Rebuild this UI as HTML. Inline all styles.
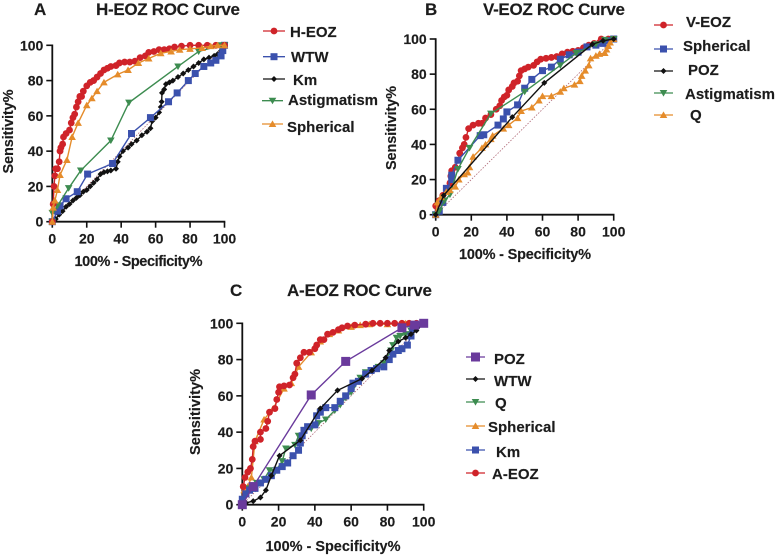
<!DOCTYPE html>
<html lang="en">
<head>
<meta charset="utf-8">
<title>EOZ ROC Curves</title>
<style>
html,body{margin:0;padding:0;background:#fff;width:777px;height:557px;overflow:hidden}
svg{display:block;filter:blur(.35px)}
text{font-family:"Liberation Sans",sans-serif;font-weight:bold;fill:#1c1c1c;stroke:#1c1c1c;stroke-width:.15px}
.title{font-size:17px}
.panel-letter{font-size:17px}
.legend-label{font-size:15px}
.axis-title{font-size:14.5px}
.tick-label{font-size:14px}
</style>
</head>
<body>
<svg id="figure" width="777" height="557" viewBox="0 0 777 557" xmlns="http://www.w3.org/2000/svg">
  <rect width="777" height="557" fill="#fff"/>

  <text class="panel-letter" x="34" y="15">A</text>
  <text class="title" x="96" y="15" textLength="144" lengthAdjust="spacing">H-EOZ ROC Curve</text>
  <text class="axis-title" x="138.5" y="266" text-anchor="middle" textLength="128">100% - Specificity%</text>
  <text class="axis-title" transform="translate(13,131.5) rotate(-90)" text-anchor="middle" textLength="84">Sensitivity%</text>

  <text class="panel-letter" x="425" y="15">B</text>
  <text class="title" x="483" y="15" textLength="142" lengthAdjust="spacing">V-EOZ ROC Curve</text>
  <text class="axis-title" x="525" y="259" text-anchor="middle" textLength="132">100% - Specificity%</text>
  <text class="axis-title" transform="translate(396,128) rotate(-90)" text-anchor="middle" textLength="84">Sensitivity%</text>

  <text class="panel-letter" x="230" y="296">C</text>
  <text class="title" x="287" y="296" textLength="145" lengthAdjust="spacing">A-EOZ ROC Curve</text>
  <text class="axis-title" x="333" y="551" text-anchor="middle" textLength="135">100% - Specificity%</text>
  <text class="axis-title" transform="translate(200,412) rotate(-90)" text-anchor="middle" textLength="86">Sensitivity%</text>

  <text class="legend-label" x="290" y="37">H-EOZ</text>
  <text class="legend-label" x="291" y="62">WTW</text>
  <text class="legend-label" x="293" y="85">Km</text>
  <text class="legend-label" x="288" y="105" textLength="90">Astigmatism</text>
  <text class="legend-label" x="287" y="132">Spherical</text>

  <text class="legend-label" x="686" y="27">V-EOZ</text>
  <text class="legend-label" x="683" y="51">Spherical</text>
  <text class="legend-label" x="688" y="75">POZ</text>
  <text class="legend-label" x="685" y="99" textLength="90">Astigmatism</text>
  <text class="legend-label" x="690" y="120">Q</text>

  <text class="legend-label" x="494" y="364">POZ</text>
  <text class="legend-label" x="494" y="386">WTW</text>
  <text class="legend-label" x="495" y="408">Q</text>
  <text class="legend-label" x="488" y="432">Spherical</text>
  <text class="legend-label" x="496" y="457">Km</text>
  <text class="legend-label" x="492" y="479">A-EOZ</text>
</svg>
<script>
// Shared axis ticks and reference diagonal
const tickValues = [0, 20, 40, 60, 80, 100];
const diagonalValues = [0, 100];

// Panel A series
const aHeozX = [0,0.5,1,1.5,2,3,4,4.5,5,6,6.5,8,10,11,12,13,14,15,16,17,18,20,22,24,26,28,30,32,34,37,39,42,45,48,51,54,56,59,62,65,68,71,75,80,85,90,95,100];
const aHeozY = [0,10,20,26,30,30,34,40,42,44,48,50,52,56,59,61,65,68,71,71,74,77,79,80,82,84,86,87,88,88.5,90,90.5,90.5,91,93,94,96,96.5,97.5,97.5,98,99,99.5,100,100,100,100,100];
const aWtwX = [0,3,4.5,8,14.5,20.5,35,46,57,67.5,72.5,79,83,88,92,95,98,99,100];
const aWtwY = [0,6,9,13,17,27,33,50,59,68,73,80,84,88,90,91.5,94,97,100];
const aKmX = [0,2,4,6,8,10,12,14,16,18,20,22,24,26,28,30,32,34,37,38,39,41,44,46,49,52,55,57,58,60,62,63,63.5,63.7,65,66,68,70,73,76,79,82,85,88,91,94,96,98,99,100];
const aKmY = [0,1.5,4,6,8.5,10,12,13.5,15,17,18,20,22,24,27,28,28.5,29,30,34,37,40,42,44,46,49,51,53,57,59,62,65,68,73,75,78,79,80,82,84,86,88,90,92,93,94,95,97,98,100];
const aAstigX = [0,0,3,9.5,16.5,34,44.5,73,85,98,100];
const aAstigY = [0,5,9,19,29,46,67.5,88,96.5,100,100];
const aSpherX = [0,0.5,1.5,3,4.5,8.5,11.5,15,20,23,26,30,38,44,50,56,63,69,74,80,87,92,96,100];
const aSpherY = [0,8,12,18,26.5,35,48,56,66,70,74,79,83.5,86,90,92.5,95.5,96.5,97.5,98,98.5,99.5,100,100];

// Panel B series
const bVeozX = [0,0,2,4,6,8,8.5,9,11,12.5,13.5,15,16,17,18.5,21,24,26,28,31,34,36,37,38.5,40,41,43,44,46,47,48,50,52,55,57,59,62,65,68,71,74,77,80,83,86,89,92,93,97,100];
const bVeozY = [0,5,8,11,14,18,22,25,27,31,35,38,40,44,49,51,52,52,55,57,60,62,65,67,68,71,73,75,76,79,82,83,84,85,87,88.5,89,89.5,90,91.5,92.5,93,93.5,95,96.5,97.5,98,100,100,100];
const bSpherX = [0,2,4,6,9,9,12.5,25,27,35,38,40,46,50,54,60,65,70,75,80,85,90,94,96,100];
const bSpherY = [0,2,7,15,20,22.5,31,45,45.5,51,54.5,58.5,62.5,72,77,82,84,88.5,91,92.5,95.5,96.5,97.5,99,100];
const bPozX = [0,4.5,43,61,88,94,100];
const bPozY = [0,11,55.5,75,97,99,100];
const bAstigX = [0,2,5,8,12.5,19,31,50,70,79,90,95,100];
const bAstigY = [0,2,8,11.5,26,38,57.5,70,85,92,97,99.5,100];
const bQX = [0,1,3,6,8,11,13,16,18,19,21,26,28,31,32,38,41,46,48,54,58,60,65,70,72,78,81,82,84,86,87,90,92,95,96,97,98,100];
const bQY = [0,7,10,13,14,16,20,23,24,27,33,38,40,43,45,49,51,55,59,61,65,67.5,67.5,70,72,74,76,79,82,85,89,90.5,91.5,92,94,96,98,100];

// Panel C series
const cPozX = [0,6,38,57,88,95,100];
const cPozY = [0,10,60.5,79,97.5,99,100];
const cWtwX = [0,2,6,10,13,16,20.5,32,43,52.5,66,71.5,79,81,86,90,93,96,100];
const cWtwY = [0,1,2,4,8,16,27,35.5,53,63,69.5,74,81,85,90,92,94,96,100];
const cQX = [0,2,4,8,12,15,18,22,24,29,31,34,38,42,46,51,54,57,60,62,65,68,71,75,78,82,83,85,87,90,93,100];
const cQY = [0,5,9,12,14,19,18,24,31,33,38,41,42,45,47,52,55,59,62,66,70,73,74,76,78,85,88,92,93,94,96,100];
const cSpherX = [0,1,3,5,7,12,17,23,27,31,38,43,48,53,60,65,70,80,90,100];
const cSpherY = [0,8,10,15,35,47,53,64,67,76,84,90,94,96,98,99,99.5,99.5,100,100];
const cKmX = [0,2,4,7,10,13,16,19,22,25,28,31,32,33,34,36,40,41,43,46,51,54,57,60,61,64,68,71,74,78,81,83,86,88,91,93,94,96,100];
const cKmY = [3,6,8,9,12,14,16,19,21,23,27,30,34,38,41,43,44,49,51,53.5,53.5,57,60,64,67,68,72,74,75,76,80,83,85,86,88,93,97,99,100];
const cAeozX = [0,0.5,1.5,3,4.5,5.5,6,7,10,10,13,14,15,18,19,20,20.5,23,26,28,29,30,32,34,37,40,41,43,45,47,50,53,55,58,62,68,72,76,80,84,88,92,96,100];
const cAeozY = [0,10,15,18,20,25,32,35,36,40,42,46,51,53,58,62,65,65.5,66,70,72,78,81,84,84,86,88,91,91,94,95,96.5,97.5,98.5,99,99.5,100,100,100,100,100,100,100,100];

const COLORS = {red:'#cf2329', blue:'#3b51ad', black:'#111', green:'#3d8c50', orange:'#e58c2b', purple:'#6a3a9c'};

const panels = [
  {id:'a', x0:52.3, x1:224.5, y0:221.7, y1:45.3, series:[
    {name:'km', xs:aKmX, ys:aKmY, color:COLORS.black, shape:'diamond'},
    {name:'wtw', xs:aWtwX, ys:aWtwY, color:COLORS.blue, shape:'square'},
    {name:'astigmatism', xs:aAstigX, ys:aAstigY, color:COLORS.green, shape:'down'},
    {name:'h-eoz', xs:aHeozX, ys:aHeozY, color:COLORS.red, shape:'circle'},
    {name:'spherical', xs:aSpherX, ys:aSpherY, color:COLORS.orange, shape:'up'}
  ], legend:[
    {name:'h-eoz', x0:263, x1:285, y:31, color:COLORS.red, shape:'circle'},
    {name:'wtw', x0:263, x1:285, y:56.7, color:COLORS.blue, shape:'square'},
    {name:'km', x0:263, x1:285, y:79, color:COLORS.black, shape:'diamond'},
    {name:'astigmatism', x0:262, x1:283, y:100.7, color:COLORS.green, shape:'down'},
    {name:'spherical', x0:262, x1:283, y:124, color:COLORS.orange, shape:'up'}
  ]},
  {id:'b', x0:435.7, x1:613.7, y0:214.7, y1:39, series:[
    {name:'v-eoz', xs:bVeozX, ys:bVeozY, color:COLORS.red, shape:'circle'},
    {name:'spherical', xs:bSpherX, ys:bSpherY, color:COLORS.blue, shape:'square'},
    {name:'astigmatism', xs:bAstigX, ys:bAstigY, color:COLORS.green, shape:'down'},
    {name:'q', xs:bQX, ys:bQY, color:COLORS.orange, shape:'up'},
    {name:'poz', xs:bPozX, ys:bPozY, color:COLORS.black, shape:'diamond'}
  ], legend:[
    {name:'v-eoz', x0:654, x1:673, y:25, color:COLORS.red, shape:'circle'},
    {name:'spherical', x0:654, x1:673, y:49, color:COLORS.blue, shape:'square'},
    {name:'poz', x0:654, x1:673, y:71, color:COLORS.black, shape:'diamond'},
    {name:'astigmatism', x0:654, x1:673, y:93, color:COLORS.green, shape:'down'},
    {name:'q', x0:654, x1:673, y:115, color:COLORS.orange, shape:'up'}
  ]},
  {id:'c', x0:242.3, x1:423.7, y0:504.7, y1:323.3, series:[
    {name:'spherical', xs:cSpherX, ys:cSpherY, color:COLORS.orange, shape:'up'},
    {name:'a-eoz', xs:cAeozX, ys:cAeozY, color:COLORS.red, shape:'circle'},
    {name:'q', xs:cQX, ys:cQY, color:COLORS.green, shape:'down'},
    {name:'km', xs:cKmX, ys:cKmY, color:COLORS.blue, shape:'square'},
    {name:'wtw', xs:cWtwX, ys:cWtwY, color:COLORS.black, shape:'diamond'},
    {name:'poz', xs:cPozX, ys:cPozY, color:COLORS.purple, shape:'bigsquare'}
  ], legend:[
    {name:'poz', x0:466, x1:485, y:357, color:COLORS.purple, shape:'bigsquare'},
    {name:'wtw', x0:466, x1:485, y:379, color:COLORS.black, shape:'diamond'},
    {name:'q', x0:466, x1:485, y:402, color:COLORS.green, shape:'down'},
    {name:'spherical', x0:466, x1:485, y:426, color:COLORS.orange, shape:'up'},
    {name:'km', x0:466, x1:485, y:450, color:COLORS.blue, shape:'square'},
    {name:'a-eoz', x0:466, x1:485, y:473, color:COLORS.red, shape:'circle'}
  ]}
];

const NS = 'http://www.w3.org/2000/svg';
const svg = document.getElementById('figure');

function make(tag, attrs, parent) {
  const el = document.createElementNS(NS, tag);
  for (const k in attrs) el.setAttribute(k, attrs[k]);
  parent.appendChild(el);
  return el;
}

function scale(domainMax, a, b) {
  return function (v) { return a + (v / domainMax) * (b - a); };
}

function drawMarker(shape, cx, cy, color, parent) {
  let m;
  if (shape === 'circle') {
    m = make('circle', {cx: cx, cy: cy, r: 3.4, fill: color}, parent);
  } else if (shape === 'square') {
    m = make('rect', {x: cx - 3.5, y: cy - 3.5, width: 7, height: 7, fill: color}, parent);
  } else if (shape === 'bigsquare') {
    m = make('rect', {x: cx - 4.5, y: cy - 4.5, width: 9, height: 9, fill: color}, parent);
  } else if (shape === 'diamond') {
    m = make('polygon', {points: (cx - 3) + ',' + cy + ' ' + cx + ',' + (cy - 3) + ' ' + (cx + 3) + ',' + cy + ' ' + cx + ',' + (cy + 3), fill: color}, parent);
  } else if (shape === 'down') {
    m = make('polygon', {points: (cx - 3.8) + ',' + (cy - 3) + ' ' + (cx + 3.8) + ',' + (cy - 3) + ' ' + cx + ',' + (cy + 3.6), fill: color}, parent);
  } else {
    m = make('polygon', {points: (cx - 3.8) + ',' + (cy + 3) + ' ' + (cx + 3.8) + ',' + (cy + 3) + ' ' + cx + ',' + (cy - 3.6), fill: color}, parent);
  }
  
  
}

panels.forEach(function (p) {
  const sx = scale(100, p.x0, p.x1);
  const sy = scale(100, p.y0, p.y1);

  const diag = make('line', {
    x1: sx(diagonalValues[0]), y1: sy(diagonalValues[0]),
    x2: sx(diagonalValues[1]), y2: sy(diagonalValues[1]),
    stroke: '#b06a78', 'stroke-width': 0.8, 'stroke-dasharray': '1.5 1.5'
  }, svg);
  
  

  const xAxis = make('g', {}, svg);
  
  
  const yAxis = make('g', {}, svg);
  
  

  make('line', {x1: sx(0) - 0.8, y1: sy(0), x2: sx(100) + 0.8, y2: sy(0), stroke: '#111', 'stroke-width': 1.8}, xAxis);
  make('line', {x1: sx(0), y1: sy(0) + 0.8, x2: sx(0), y2: sy(100) - 0.8, stroke: '#111', 'stroke-width': 1.8}, yAxis);

  tickValues.forEach(function (t) {
    make('line', {x1: sx(t), y1: sy(0), x2: sx(t), y2: sy(0) + 6, stroke: '#111', 'stroke-width': 1.6}, xAxis);
    make('line', {x1: sx(0), y1: sy(t), x2: sx(0) - 6, y2: sy(t), stroke: '#111', 'stroke-width': 1.6}, yAxis);
    const xl = make('text', {x: sx(t), y: sy(0) + 22, 'text-anchor': 'middle', class: 'tick-label'}, xAxis);
    xl.textContent = t;
    
    
    const yl = make('text', {x: sx(0) - 9, y: sy(t) + 5, 'text-anchor': 'end', class: 'tick-label'}, yAxis);
    yl.textContent = t;
    
    
  });

  p.series.forEach(function (s) {
    const g = make('g', {}, svg);
    
    
    const pts = s.xs.map(function (x, i) { return sx(x) + ',' + sy(s.ys[i]); }).join(' ');
    make('polyline', {points: pts, fill: 'none', stroke: s.color, 'stroke-width': 1.4}, g);
    s.xs.forEach(function (x, i) { drawMarker(s.shape, sx(x), sy(s.ys[i]), s.color, g); });
  });

  p.legend.forEach(function (l) {
    const g = make('g', {}, svg);
    
    
    make('line', {x1: l.x0, y1: l.y, x2: l.x1, y2: l.y, stroke: l.color, 'stroke-width': 1.3}, g);
    drawMarker(l.shape, (l.x0 + l.x1) / 2, l.y, l.color, g);
  });
});
</script>
</body>
</html>
